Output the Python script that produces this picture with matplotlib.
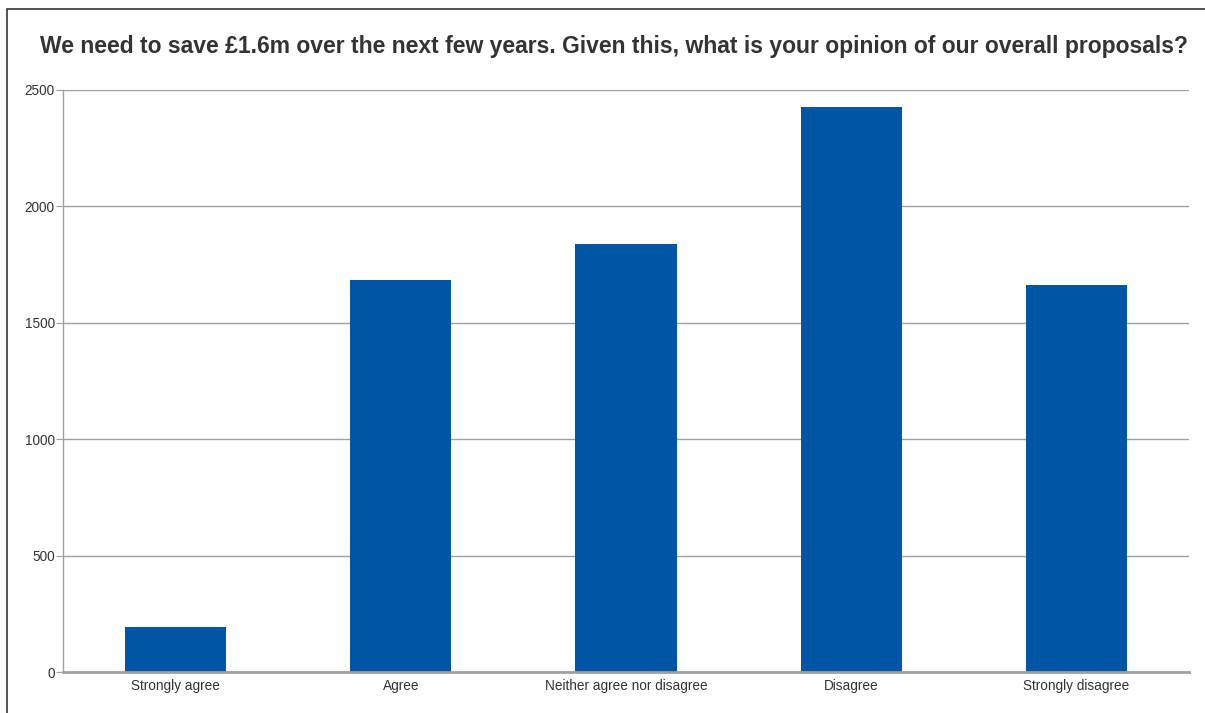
import matplotlib
matplotlib.use("Agg")
import matplotlib.pyplot as plt
from matplotlib.patches import Rectangle

categories = ["Strongly agree", "Agree", "Neither agree nor disagree", "Disagree", "Strongly disagree"]
values = [194, 1682, 1837, 2424, 1661]
yticks = [0, 500, 1000, 1500, 2000, 2500]
title = "We need to save £1.6m over the next few years. Given this, what is your opinion of our overall proposals?"

plt.rcParams['font.family'] = ['Liberation Sans', 'DejaVu Sans']

W, H = 1205, 713
fig = plt.figure(figsize=(W/100, H/100), dpi=100)
fig.patch.set_facecolor('white')

# outer border
fig.add_artist(Rectangle((7/W, -0.1), 1.2, (H-9)/H + 0.1, transform=fig.transFigure,
                         fill=False, edgecolor='#333333', linewidth=1.2))

left, right, top, bottom = 63, 1189, 89.5, 672.3
ax = fig.add_axes([left/W, 1-bottom/H, (right-left)/W, (bottom-top)/H])

x = list(range(len(categories)))
ax.bar(x, values, width=0.45, color='#0055a5', zorder=3)
ax.set_xlim(-0.5, len(categories)-0.5)
ax.set_ylim(0, 2500)
ax.set_yticks(yticks)
ax.set_yticklabels([str(t) for t in yticks])
ax.set_xticks(x)
ax.set_xticklabels(categories)

ax.grid(axis='y', color='#a0a0a0', linewidth=1.0, zorder=0)
for s in ['top', 'right']:
    ax.spines[s].set_visible(False)
ax.spines['left'].set_color('#a0a0a0')
ax.spines['left'].set_linewidth(1.0)
ax.spines['bottom'].set_color('#a0a0a0')
ax.spines['bottom'].set_linewidth(2.0)
ax.spines['bottom'].set_zorder(4)

ax.tick_params(axis='y', length=5, color='#a0a0a0', labelsize=9.8, labelcolor='#333333', pad=1)
ax.tick_params(axis='x', length=0, labelsize=9.8, labelcolor='#333333', pad=5)

fig.text(614/W, 1-46/H, title, ha='center', va='center', fontsize=16.5,
         fontweight='bold', color='#333333')

fig.savefig("out.png", dpi=100)
